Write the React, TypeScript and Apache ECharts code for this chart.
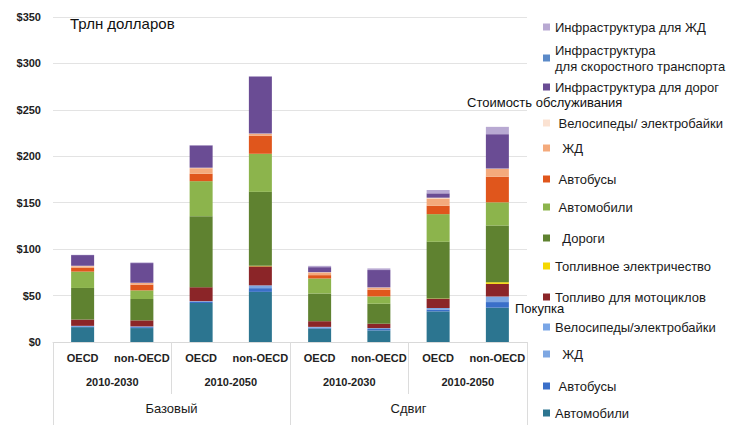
import React, { useEffect, useRef } from "react";
import * as echarts from "echarts";

const categories = ["OECD", "non-OECD", "OECD", "non-OECD", "OECD", "non-OECD", "OECD", "non-OECD"];
const periods = ["2010-2030", "2010-2050", "2010-2030", "2010-2050"];
const scenarios = ["Базовый", "Сдвиг"];
const yTicks = [0, 50, 100, 150, 200, 250, 300, 350];

const purchaseCars = [16, 15, 42, 54, 14.5, 12.5, 33, 37];
const purchaseBuses = [0.8, 1, 1.2, 4, 1, 1.5, 2, 6];
const purchaseRail = [0.6, 0.8, 0.8, 3, 0.8, 1, 1.6, 6];
const purchaseBikes = [0, 0, 0, 0, 0, 0, 0, 0];
const fuelMoto = [6.8, 6.5, 15, 20.5, 6.1, 4.7, 10, 13.6];
const fuelElec = [0, 0, 0, 0.5, 0, 0, 0.3, 1.8];
const roads = [34, 23, 76.5, 79.7, 29.8, 21.5, 61, 61];
const maintCars = [17.6, 9.3, 37.7, 41, 16.2, 7.9, 29.8, 25];
const maintBuses = [4, 6.1, 8, 19.4, 3.6, 7.2, 9, 27.6];
const maintRail = [1.8, 1.8, 6, 2, 2.9, 2.2, 7.9, 8.3];
const maintBikes = [0.5, 0.3, 0.5, 0.5, 0.3, 0.3, 0.8, 0.5];
const infraRoads = [11.5, 21.2, 24, 61.4, 5.4, 18.7, 4.7, 37];
const infraRapid = [0, 0, 0, 0, 0, 0, 0, 0];
const infraRail = [0.3, 0.7, 0.3, 0.3, 1.4, 1.8, 3.6, 7.9];

const seriesDefs = [
  { name: "p_cars", label: "Автомобили", data: purchaseCars, color: "#2c7590", top: 412 },
  { name: "p_buses", label: " Автобусы", data: purchaseBuses, color: "#3a6fc9", top: 385 },
  { name: "p_rail", label: "  ЖД", data: purchaseRail, color: "#7ea7e2", top: 353 },
  { name: "p_bikes", label: "Велосипеды/электробайки", data: purchaseBikes, color: "#7aa6e6", top: 326 },
  { name: "f_moto", label: "Топливо для мотоциклов", data: fuelMoto, color: "#8b2528", top: 296 },
  { name: "f_elec", label: "Топливное электричество", data: fuelElec, color: "#f5d800", top: 265 },
  { name: "roads", label: "  Дороги", data: roads, color: "#5f8230", top: 237 },
  { name: "m_cars", label: " Автомобили", data: maintCars, color: "#8cb44c", top: 206 },
  { name: "m_buses", label: " Автобусы", data: maintBuses, color: "#e0561c", top: 178 },
  { name: "m_rail", label: "  ЖД", data: maintRail, color: "#f4aa7c", top: 147 },
  { name: "m_bikes", label: " Велосипеды/ электробайки", data: maintBikes, color: "#fbe2d2", top: 122 },
  { name: "i_roads", label: "Инфраструктура для дорог", data: infraRoads, color: "#6a4c94", top: 86 },
  { name: "i_rapid", label: "Инфраструктура\nдля скоростного транспорта", data: infraRapid, color: "#5b8ac8", top: 58 },
  { name: "i_rail", label: "Инфраструктура для ЖД", data: infraRail, color: "#b8a9d2", top: 26 },
];

const FONT = "'Liberation Sans', Arial, Helvetica, sans-serif";

export default function App() {
  const ref = useRef<HTMLDivElement>(null);
  useEffect(() => {
    if (!ref.current) return;
    document.body.style.margin = "0";
    const chart = echarts.init(ref.current, null, { renderer: "svg" });
    const legends = seriesDefs.map((s) => {
      const twoLine = s.label.includes("\n");
      return {
        show: true,
        left: 543,
        top: twoLine ? s.top - 16 : s.top - 7,
        padding: 0,
        itemWidth: 7,
        itemHeight: 7,
        icon: "rect",
        selectedMode: false,
        data: [s.name],
        formatter: () => s.label,
        textStyle: { fontFamily: FONT, fontSize: 13, color: "#1a1a1a", lineHeight: 16 },
      };
    });
    chart.setOption({
      animation: false,
      textStyle: { fontFamily: FONT },
      grid: { left: 53, right: 202, top: 17, bottom: 83, containLabel: false },
      legend: legends,
      xAxis: [
        {
          type: "category",
          data: categories,
          position: "bottom",
          axisLine: { show: true, lineStyle: { color: "#d9d9d9" } },
          axisTick: { show: false },
          axisLabel: { interval: 0, margin: 10, fontWeight: "bold", fontSize: 11, color: "#222", fontFamily: FONT },
        },
        {
          type: "category",
          data: periods,
          position: "bottom",
          axisLine: { show: false },
          axisTick: { show: true, interval: 0, length: 52, lineStyle: { color: "#dcdcdc" } },
          axisLabel: { interval: 0, margin: 34, fontWeight: "bold", fontSize: 11, color: "#222", fontFamily: FONT },
        },
        {
          type: "category",
          data: scenarios,
          position: "bottom",
          axisLine: { show: false },
          axisTick: { show: true, interval: 0, length: 83, lineStyle: { color: "#dcdcdc" } },
          axisLabel: { interval: 0, margin: 60, fontSize: 13, color: "#1a1a1a", fontFamily: FONT },
        },
      ],
      yAxis: {
        type: "value",
        min: yTicks[0],
        max: yTicks[yTicks.length - 1],
        interval: 50,
        axisLine: { show: false },
        axisTick: { show: false },
        splitLine: { lineStyle: { color: "#e3e3e3" } },
        axisLabel: { formatter: "${value}", fontWeight: "bold", fontSize: 11, color: "#222", margin: 12, fontFamily: FONT },
      },
      series: seriesDefs.map((s) => ({
        name: s.name,
        type: "bar",
        stack: "total",
        xAxisIndex: 0,
        barWidth: 23,
        data: s.data,
        itemStyle: { color: s.color },
      })),
      graphic: [
        { type: "text", left: 70, top: 16, style: { text: "Трлн долларов", font: `15px ${FONT}`, fill: "#111" } },
        { type: "text", left: 467, top: 96, style: { text: "Стоимость обслуживания", font: `13px ${FONT}`, fill: "#111" } },
        { type: "text", left: 515, top: 302, style: { text: "Покупка", font: `13px ${FONT}`, fill: "#111" } },
      ],
    });
    return () => chart.dispose();
  }, []);
  return <div ref={ref} style={{ width: 729, height: 425, position: "absolute", left: 0, top: 0 }} />;
}
